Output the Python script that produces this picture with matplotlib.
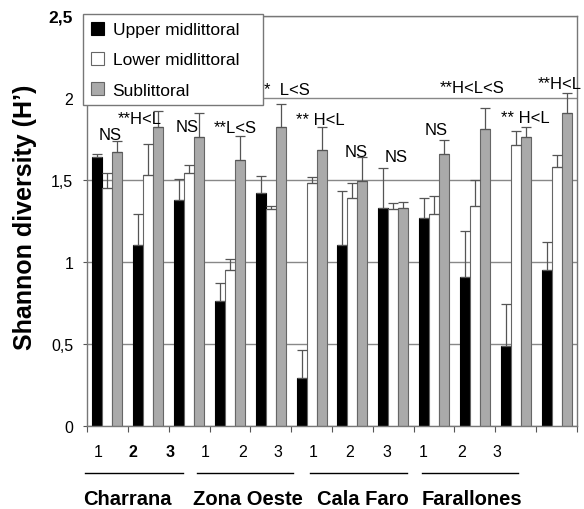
import numpy as np
import matplotlib.pyplot as plt
from matplotlib.patches import Patch

plt.rcParams['font.family'] = ['Liberation Sans', 'DejaVu Sans']

# --- data ---
sites = ["Charrana", "Zona Oeste", "Cala Faro", "Farallones"]
stations = ["1", "2", "3"]
series = ["Upper midlittoral", "Lower midlittoral", "Sublittoral"]

upper = [1.64, 1.10, 1.38, 0.76, 1.42, 0.29, 1.10, 1.33, 1.27, 0.91, 0.49, 0.95]
upper_err = [0.02, 0.19, 0.125, 0.11, 0.105, 0.17, 0.33, 0.24, 0.12, 0.28, 0.25, 0.17]
lower = [1.45, 1.53, 1.54, 0.95, 1.32, 1.48, 1.39, 1.32, 1.29, 1.34, 1.71, 1.58]
lower_err = [0.09, 0.19, 0.05, 0.07, 0.02, 0.04, 0.09, 0.04, 0.11, 0.16, 0.09, 0.07]
sub = [1.67, 1.82, 1.76, 1.62, 1.82, 1.68, 1.49, 1.33, 1.66, 1.81, 1.76, 1.91]
sub_err = [0.065, 0.10, 0.15, 0.15, 0.14, 0.14, 0.15, 0.035, 0.085, 0.13, 0.06, 0.12]

tests = ["NS", "**H<L", "NS", "**L<S", "*  L<S", "** H<L",
         "NS", "NS", "NS", "**H<L<S", "** H<L", "**H<L"]
# label placement (layout only)
test_x = [0.56, 1.30, 2.45, 3.62, 4.90, 5.71, 6.59, 7.57, 8.55, 9.43, 10.73, 11.58]
test_y = [1.775, 1.875, 1.825, 1.82, 2.05, 1.87, 1.67, 1.64, 1.81, 2.06, 1.88, 2.09]

fig = plt.figure(figsize=(5.84, 5.10), dpi=100)
ax = fig.add_axes([0.149, 0.163, 0.839, 0.804])

n = len(upper)
x = np.arange(n) + 0.5
w = 0.245
colors = ['black', 'white', '#aaaaaa']
edges = ['black', '#666666', '#666666']
vals = [upper, lower, sub]
errs = [upper_err, lower_err, sub_err]
for k in range(3):
    xs = x + (k - 1) * w
    ax.bar(xs, vals[k], width=w, color=colors[k], edgecolor=edges[k],
           linewidth=0.8, zorder=2)
    ax.errorbar(xs, vals[k], yerr=[np.zeros(n), errs[k]], fmt='none',
                ecolor='#555555', elinewidth=0.9, capsize=3.5, capthick=0.9,
                zorder=3)

for i in range(n):
    ax.text(test_x[i], test_y[i], tests[i], ha='center', va='center',
            fontsize=12, zorder=4)

ax.set_xlim(0, n)
ax.set_ylim(0, 2.5)
ax.set_yticks([0, 0.5, 1, 1.5, 2, 2.5])
ax.set_yticklabels(["0", "0,5", "1", "1,5", "2", "2,5"], fontsize=11.5)
ax.get_yticklabels()[-1].set_fontweight('bold')
ax.get_yticklabels()[-1].set_fontsize(12.5)
ax.set_xticks(np.arange(n + 1))
ax.set_xticklabels([])
ax.tick_params(axis='x', direction='out', length=4, color='#555555')
ax.tick_params(axis='y', direction='out', length=3, color='#555555', pad=7)
ax.yaxis.grid(True, color='#888888', linewidth=1)
ax.set_axisbelow(True)
for s in ax.spines.values():
    s.set_color('#777777')
    s.set_linewidth(1)

ax.set_ylabel("Shannon diversity (H\u2019)", fontsize=18, fontweight='bold')
ax.yaxis.set_label_coords(-0.102, 0.51)

# station numbers, underline bars and site names below axis
trans = ax.get_xaxis_transform()
num_x = [0.27, 1.13, 2.03, 2.89, 3.82, 4.68, 5.54, 6.44, 7.35, 8.23, 9.18, 10.03]
bold_nums = [1, 2]
for i in range(n):
    ax.text(num_x[i], -0.063, stations[i % 3], transform=trans, ha='center',
            va='center', fontsize=11.5,
            fontweight='bold' if i in bold_nums else 'normal')
line_x = [(-0.05, 2.35), (2.69, 5.05), (5.46, 7.84), (8.2, 10.56)]
site_x = [1.00, 3.94, 6.76, 9.43]
for j in range(len(sites)):
    a, b = line_x[j]
    ax.plot([a, b], [-0.115, -0.115], transform=trans, color='black',
            linewidth=1, clip_on=False)
    ax.text(site_x[j], -0.176, sites[j], transform=trans,
            ha='center', va='center', fontsize=14.5, fontweight='bold')

handles = [Patch(facecolor=colors[k], edgecolor=edges[k], linewidth=0.8)
           for k in range(3)]
leg = ax.legend(handles, series, loc='upper left', mode='expand',
                bbox_to_anchor=(83 / 584, 403 / 510, 180 / 584, 92 / 510),
                bbox_transform=fig.transFigure,
                borderaxespad=0, fontsize=12.5, handlelength=0.75,
                handleheight=0.75, handletextpad=0.5, labelspacing=0.85,
                borderpad=0.45, fancybox=False, framealpha=1,
                edgecolor='#777777')
leg.get_frame().set_linewidth(1)
leg.set_zorder(5)

fig.savefig("out.png", dpi=100)
